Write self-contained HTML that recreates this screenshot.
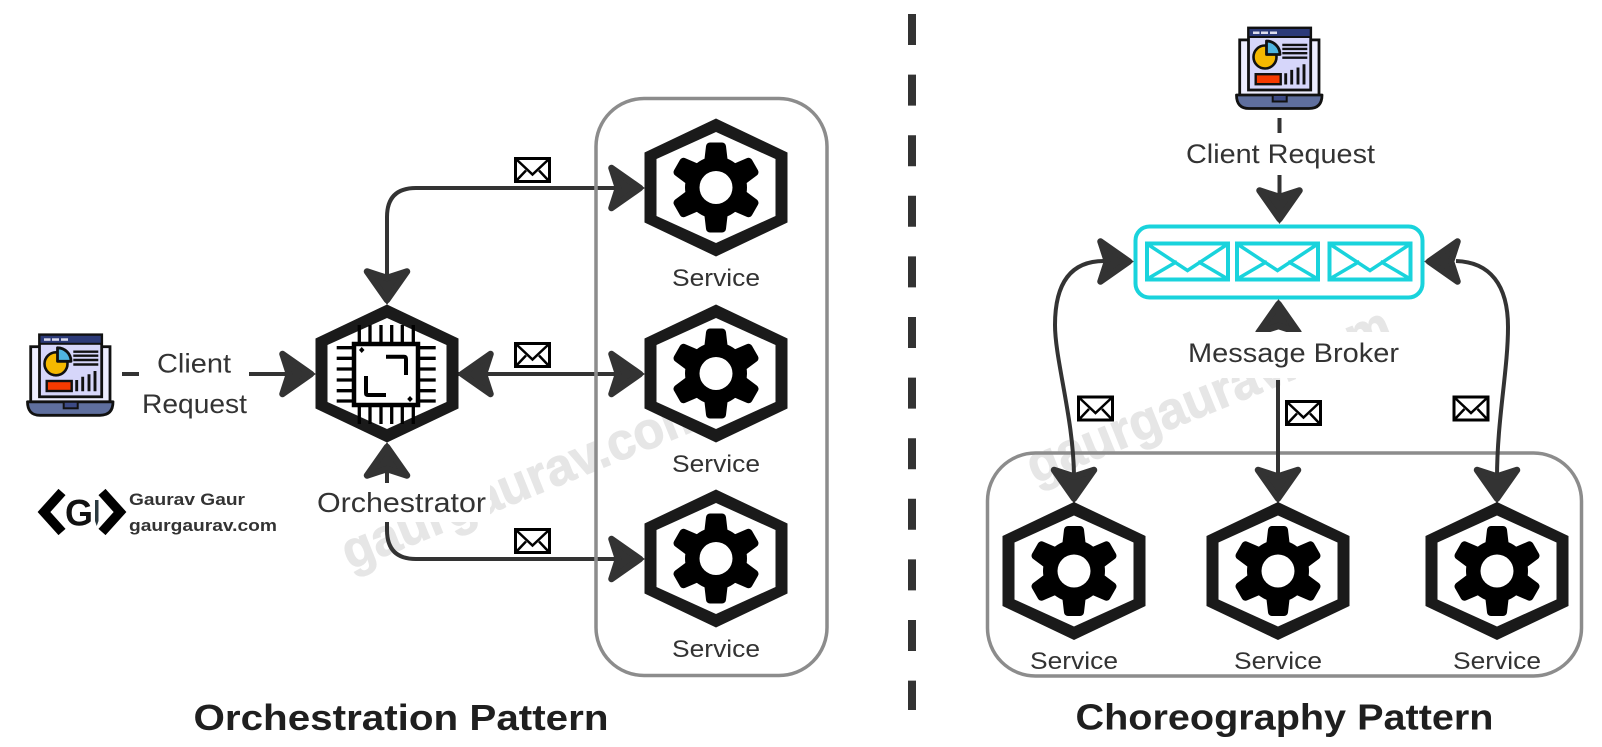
<!DOCTYPE html>
<html><head><meta charset="utf-8"><style>
html,body{margin:0;padding:0;background:#fff;width:1602px;height:747px;overflow:hidden}
svg{display:block}
text{font-family:"Liberation Sans",sans-serif;fill:#333}
</style></head><body>
<svg width="1602" height="747" viewBox="0 0 1602 747" xmlns="http://www.w3.org/2000/svg">
<defs>
<g id="hex">
<polygon points="0,-69 71.5,-35 71.5,35 0,69 -71.5,35 -71.5,-35" fill="#1a1a1a"/>
<polygon points="0,-55.5 59.5,-28.5 59.5,28.5 0,55.5 -59.5,28.5 -59.5,-28.5" fill="#fff"/>
</g>
<g id="tooth"><path d="M-6,-41 L6,-41 L8,-24 L-8,-24 Z" fill="#000" stroke="#000" stroke-width="8" stroke-linejoin="round"/></g>
<g id="svc">
<use href="#hex"/>
<circle r="31" fill="#000"/>
<use href="#tooth"/>
<use href="#tooth" transform="rotate(60)"/>
<use href="#tooth" transform="rotate(120)"/>
<use href="#tooth" transform="rotate(180)"/>
<use href="#tooth" transform="rotate(240)"/>
<use href="#tooth" transform="rotate(300)"/>
<circle r="16.5" fill="#fff"/>
</g>
<g id="arr">
<path d="M-5,0 L-33.5,-20 L-27,0 L-33.5,20 Z" fill="#333" stroke="#333" stroke-width="6.5" stroke-linejoin="round"/>
<polygon points="0,0 -14,-9 -14,9" fill="#333"/>
</g>
<g id="env">
<rect x="1.5" y="1.5" width="34" height="23" fill="#fff" stroke="#000" stroke-width="3"/>
<path d="M2,2 L18.5,17.5 L35,2 M2,24 L12,13.5 M35,24 L25,13.5" fill="none" stroke="#000" stroke-width="2.5"/>
</g>
<g id="cenv">
<rect x="2" y="2" width="81" height="36" fill="none" stroke="#19d3dc" stroke-width="4"/>
<path d="M3,3 L42.5,29 L82,3 M3,37 L32,20 M82,37 L53,20" fill="none" stroke="#19d3dc" stroke-width="3.5"/>
</g>
<g id="laptop">
<rect x="3.7" y="13.4" width="79.3" height="56" fill="#eeeeff" stroke="#111" stroke-width="2.8"/>
<rect x="12.5" y="1.5" width="62.2" height="62" fill="#d6d6fa" stroke="#111" stroke-width="2.8"/>
<rect x="12.5" y="1.5" width="62.2" height="9" fill="#2c3a78" stroke="#111" stroke-width="2"/>
<rect x="17" y="5" width="6.5" height="2.5" fill="#dde"/><rect x="25" y="5" width="7" height="2.5" fill="#dde"/><rect x="34" y="5" width="7" height="2.5" fill="#dde"/>
<circle cx="29" cy="30.5" r="11.5" fill="#f5b800" stroke="#111" stroke-width="2.6"/>
<path d="M30.5,28 L30.5,14.5 A13.5,13.5 0 0 1 44,28 Z" fill="#4fb4e0" stroke="#111" stroke-width="2.8" stroke-linejoin="round"/>
<path d="M46.3,18.4H71.3M46.3,22.4H71.3M46.3,26.7H71.3M46.3,31.2H71.3" stroke="#111" stroke-width="2.4"/>
<rect x="19.7" y="47.7" width="25" height="10" fill="#f63a00" stroke="#111" stroke-width="2.4"/>
<path d="M49.7,58V46.7M55.7,58V43.4M62,58V41M68,58V37.7" stroke="#111" stroke-width="2.9"/>
<path d="M0.5,68.5 H86 Q86,82 73,82 H13 Q0.5,82 0.5,68.5 Z" fill="#5f6f9e" stroke="#111" stroke-width="2.8" stroke-linejoin="round"/>
<rect x="36.7" y="68.5" width="14" height="6.5" fill="#3c4a85" stroke="#111" stroke-width="2"/>
</g>
</defs>

<text x="350" y="570" font-size="52" font-weight="bold" style="fill:#e6e6e6;stroke:#e6e6e6;stroke-width:1" textLength="388" lengthAdjust="spacingAndGlyphs" transform="rotate(-22 350 570)">gaurgaurav.com</text>
<text x="1035" y="484" font-size="52" font-weight="bold" style="fill:#e6e6e6;stroke:#e6e6e6;stroke-width:1" textLength="388" lengthAdjust="spacingAndGlyphs" transform="rotate(-22 1035 484)">gaurgaurav.com</text>

<!-- divider -->
<line x1="912" y1="14" x2="912" y2="710" stroke="#333" stroke-width="8" stroke-dasharray="31 29.6"/>

<!-- left connectors -->
<g fill="none" stroke="#333" stroke-width="4">
<path d="M387,280 V217 Q387,188 416,188 H620"/>
<path d="M440,374 H620"/>
<path d="M387,470 V530 Q387,559 416,559 H620"/>
<line x1="122" y1="374" x2="139" y2="374"/>
<line x1="249" y1="374" x2="290" y2="374"/>
</g>
<rect x="596" y="98.5" width="231" height="577" rx="48" ry="48" fill="none" stroke="#8c8c8c" stroke-width="3.5"/>
<rect x="312" y="483" width="178" height="39" fill="#fff"/>
<line x1="387" y1="470" x2="387" y2="482" stroke="#333" stroke-width="4"/>

<use href="#arr" transform="translate(645,188)"/>
<use href="#arr" transform="translate(645,374)"/>
<use href="#arr" transform="translate(645,559)"/>
<use href="#arr" transform="translate(387,305) rotate(90)"/>
<use href="#arr" transform="translate(457,374) rotate(180)"/>
<use href="#arr" transform="translate(316,374)"/>
<use href="#arr" transform="translate(387,442) rotate(-90)"/>

<!-- orchestrator -->
<use href="#hex" transform="translate(387,373.5)"/>
<path d="M336.7,347.7H352M336.7,358.3H352M336.7,369H352M336.7,380H352M336.7,390.7H352M336.7,401H352M420,347.7H435.7M420,358.3H435.7M420,369H435.7M420,380H435.7M420,390.7H435.7M420,401H435.7M359.3,325V342M370,325V342M381,325V342M391.7,325V342M402.3,325V342M413.3,325V342M359.3,407V424M370,407V424M381,407V424M391.7,407V424M402.3,407V424M413.3,407V424" stroke="#000" stroke-width="3.3" fill="none"/>
<rect x="354" y="344" width="64" height="61" fill="#fff" stroke="#000" stroke-width="4.5"/>
<path d="M386,356.7 H404 Q406,356.7 406,359 V375 M366,376 V393 Q366,395 368,395 H386" fill="none" stroke="#000" stroke-width="4"/>
<polygon points="361.7,347 364.5,350 361.7,353 359,350" fill="#000"/>
<polygon points="410,396 412.8,399 410,402 407.2,399" fill="#000"/>

<!-- services left -->
<use href="#svc" transform="translate(716,187.5)"/>
<use href="#svc" transform="translate(716,373.5)"/>
<use href="#svc" transform="translate(716,558.5)"/>

<use href="#env" transform="translate(514,157)"/>
<use href="#env" transform="translate(514,342)"/>
<use href="#env" transform="translate(514,528)"/>

<use href="#laptop" transform="translate(27,333.3)"/>
<text x="157" y="372.5" font-size="27" textLength="74" lengthAdjust="spacingAndGlyphs">Client</text>
<text x="142" y="413" font-size="27" textLength="105" lengthAdjust="spacingAndGlyphs">Request</text>
<text x="317" y="512" font-size="27.5" textLength="169" lengthAdjust="spacingAndGlyphs">Orchestrator</text>
<text x="672" y="286" font-size="24.5" textLength="88" lengthAdjust="spacingAndGlyphs">Service</text>
<text x="672" y="472" font-size="24.5" textLength="88" lengthAdjust="spacingAndGlyphs">Service</text>
<text x="672" y="657" font-size="24.5" textLength="88" lengthAdjust="spacingAndGlyphs">Service</text>

<!-- logo -->
<path d="M62,492 L44,512 L62,532 M102,492 L120,512 L102,532" fill="none" stroke="#000" stroke-width="9.5"/>
<text x="65" y="525.5" font-size="37" font-weight="bold" style="fill:#111" textLength="28" lengthAdjust="spacingAndGlyphs">G</text>
<path d="M95,500 H98.5 V521 L96.7,526 L95,521 Z" fill="#2b3a40"/>
<text x="129" y="505" font-size="16.5" font-weight="bold" textLength="116" lengthAdjust="spacingAndGlyphs">Gaurav Gaur</text>
<text x="129" y="531" font-size="16.5" font-weight="bold" textLength="148" lengthAdjust="spacingAndGlyphs">gaurgaurav.com</text>

<text x="193.5" y="730" font-size="36.5" font-weight="bold" style="fill:#1f1f1f" textLength="415" lengthAdjust="spacingAndGlyphs">Orchestration Pattern</text>

<!-- right container & connectors -->
<rect x="987.5" y="453" width="594" height="223" rx="48" ry="48" fill="none" stroke="#8c8c8c" stroke-width="3.5"/>
<g fill="none" stroke="#333" stroke-width="4">
<path d="M1279.5,118 V133"/>
<path d="M1279.5,175 V200"/>
<path d="M1278,380 V480"/>
<path d="M1104,261 C1066,261 1055,290 1055,325 C1055,360 1074,420 1074,478"/>
<path d="M1456,261 C1490,262 1508,285 1508,327 C1508,370 1497,420 1497,478"/>
</g>
<use href="#arr" transform="translate(1279.5,224) rotate(90)"/>
<use href="#arr" transform="translate(1134,261.5)"/>
<use href="#arr" transform="translate(1424,261.5) rotate(180)"/>
<use href="#arr" transform="translate(1278.5,299) rotate(-90)"/>
<use href="#arr" transform="translate(1074,503.5) rotate(90)"/>
<use href="#arr" transform="translate(1278,503.5) rotate(90)"/>
<use href="#arr" transform="translate(1497,503.5) rotate(90)"/>

<rect x="1180" y="332" width="228" height="46" fill="#fff"/>
<rect x="1135.5" y="226.5" width="287" height="71" rx="14" ry="14" fill="#fff" stroke="#19d3dc" stroke-width="4"/>
<use href="#cenv" transform="translate(1145,241.5)"/>
<use href="#cenv" transform="translate(1235,241.5)"/>
<use href="#cenv" transform="translate(1327.5,241.5)"/>

<use href="#laptop" transform="translate(1236,26.5)"/>
<text x="1186" y="163" font-size="27" textLength="189" lengthAdjust="spacingAndGlyphs">Client Request</text>
<text x="1188" y="362" font-size="27" textLength="211" lengthAdjust="spacingAndGlyphs">Message Broker</text>

<use href="#svc" transform="translate(1074,571)"/>
<use href="#svc" transform="translate(1278,571)"/>
<use href="#svc" transform="translate(1497,571)"/>
<use href="#env" transform="translate(1077,395.5)"/>
<use href="#env" transform="translate(1285,400)"/>
<use href="#env" transform="translate(1452.5,395.5)"/>

<text x="1030" y="669" font-size="24.5" textLength="88" lengthAdjust="spacingAndGlyphs">Service</text>
<text x="1234" y="669" font-size="24.5" textLength="88" lengthAdjust="spacingAndGlyphs">Service</text>
<text x="1453" y="669" font-size="24.5" textLength="88" lengthAdjust="spacingAndGlyphs">Service</text>

<text x="1075.5" y="729.5" font-size="36.5" font-weight="bold" style="fill:#1f1f1f" textLength="418" lengthAdjust="spacingAndGlyphs">Choreography Pattern</text>
</svg>
</body></html>
